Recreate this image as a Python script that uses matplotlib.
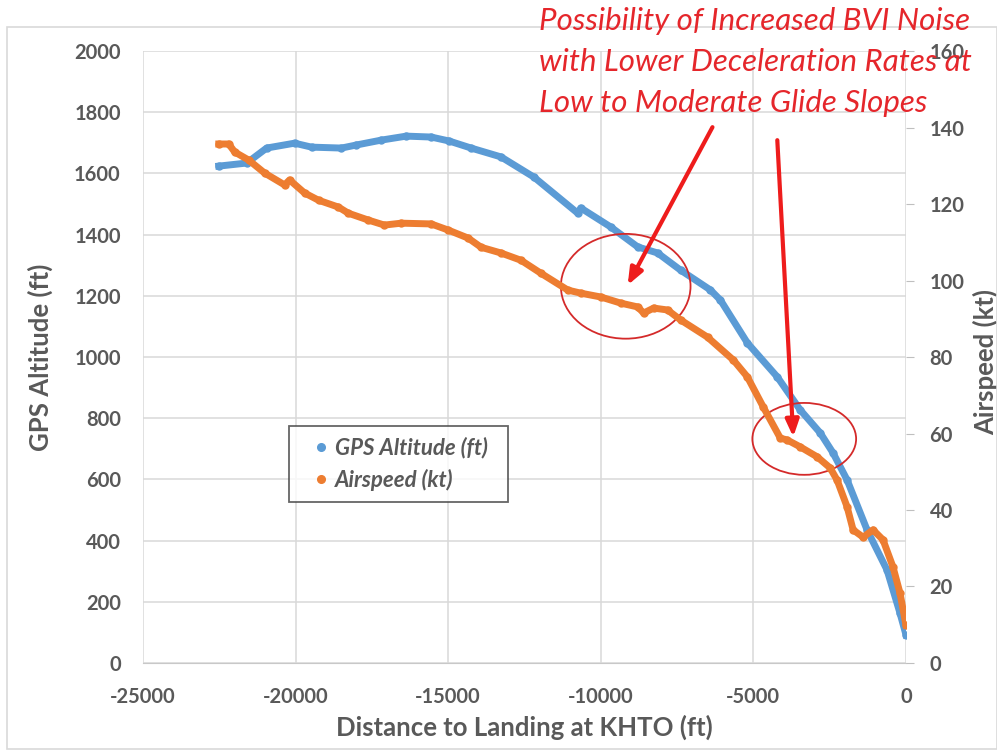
import matplotlib.pyplot as plt
from matplotlib.lines import Line2D
from matplotlib.patches import Ellipse, Rectangle

plt.rcParams['font.family'] = ['Lato', 'DejaVu Sans']
plt.rcParams['axes.unicode_minus'] = False

# GPS altitude track (ft) vs distance to touchdown (ft)
alt_dist = [-22516, -21601, -20948, -20033, -19477, -18497, -18007, -17190, -16373,
            -15556, -14967, -14248, -13268, -12190, -10752, -10654, -9673, -8791,
            -8137, -7386, -6405, -6078, -5196, -4216, -3464, -2810, -2386, -1928,
            -1275, -621, -196, 0]
alt_ft = [1624, 1634, 1683, 1699, 1686, 1683, 1693, 1709, 1722,
          1719, 1706, 1683, 1654, 1588, 1470, 1487, 1425, 1360,
          1340, 1284, 1219, 1186, 1046, 935, 827, 752, 686, 598,
          435, 304, 163, 92]

# airspeed (kt) vs distance to touchdown (ft)
spd_dist = [-22516, -22190, -21994, -21536, -21013, -20360, -20196, -19706, -19248,
            -18595, -18268, -17614, -17092, -16536, -15556, -15000, -14346, -13922,
            -13268, -12614, -11961, -11079, -10654, -10000, -9346, -8791, -8595,
            -8268, -7810, -7386, -6503, -5654, -5196, -4673, -4118, -3889, -3464,
            -2909, -2484, -2255, -1928, -1732, -1405, -1078, -752, -425, -196, 0]
spd_kt = [135.7, 135.7, 133.6, 131.5, 128.1, 125.0, 126.3, 122.9, 121.0,
          119.2, 117.6, 115.8, 114.5, 115.0, 114.8, 113.2, 111.1, 108.7,
          107.2, 105.3, 101.9, 97.5, 96.7, 95.7, 94.1, 93.1, 91.5,
          92.8, 92.3, 89.7, 85.2, 79.2, 74.8, 66.9, 58.8, 58.3, 56.5,
          53.9, 51.0, 47.8, 40.8, 34.8, 32.9, 34.8, 32.2, 25.1, 18.3, 9.9]

x_ticks = [-25000, -20000, -15000, -10000, -5000, 0]
alt_ticks = list(range(0, 2001, 200))
spd_ticks = list(range(0, 161, 20))

note_lines = ['Possibility of Increased BVI Noise',
              'with Lower Deceleration Rates at',
              'Low to Moderate Glide Slopes']

BLUE = '#5b9bd5'
ORANGE = '#ed7d31'
GRID = '#d9d9d9'
TXT = '#595959'
RED = '#e5262b'

fig = plt.figure(figsize=(9.97, 7.51), dpi=100)
fig.patches.append(Rectangle((7 / 997, 2 / 751), 990 / 997, 722 / 751,
                             transform=fig.transFigure, fill=False,
                             edgecolor=GRID, lw=1.2))

ax = fig.add_axes([0.1434, 0.1172, 0.7653, 0.8148])
ax2 = ax.twinx()

ax.plot(alt_dist, alt_ft, '-o', color=BLUE, lw=5, ms=5)
ax2.plot(spd_dist, spd_kt, '-o', color=ORANGE, lw=5, ms=5)

ax.set_xlim(-25000, 0)
ax.set_ylim(0, 2000)
ax2.set_ylim(0, 160)
ax.set_xticks(x_ticks)
ax.set_yticks(alt_ticks)
ax2.set_yticks(spd_ticks)
ax.grid(True, color=GRID, lw=1.1)
ax.set_axisbelow(True)

for a in (ax, ax2):
    for s in a.spines.values():
        s.set_visible(False)
ax.spines['bottom'].set_visible(True)
ax.spines['bottom'].set_color('#c8c8c8')

ax.tick_params(axis='both', length=0, labelcolor=TXT)
ax.tick_params(axis='y', pad=16)
ax.tick_params(axis='x', pad=17)
ax2.tick_params(axis='y', length=6, color='#bfbfbf', pad=11, labelcolor=TXT)
for lbl in ax.get_xticklabels() + ax.get_yticklabels() + ax2.get_yticklabels():
    lbl.set_fontsize(14.5)
    lbl.set_fontweight('bold')

lab_font = dict(fontsize=18.5, fontweight='bold', color=TXT)
ax.set_xlabel('Distance to Landing at KHTO (ft)', **lab_font)
ax.set_ylabel('GPS Altitude (ft)', **lab_font)
ax2.set_ylabel('Airspeed (kt)', **lab_font)
ax.xaxis.set_label_coords(0.5, -0.085)
ax.yaxis.set_label_coords(-0.118, 0.5)
ax2.yaxis.set_label_coords(1.088, 0.492)

# wide handle with the dot in its middle pushes the entries right inside the box
handles = [Line2D([], [], ls='', marker='o', ms=5.5, color=BLUE),
           Line2D([], [], ls='', marker='o', ms=5.5, color=ORANGE)]
leg = ax2.legend(handles, ['GPS Altitude (ft)  ', 'Airspeed (kt)'],
                 loc='upper left', bbox_to_anchor=(0.1914, 0.3873),
                 borderaxespad=0, fancybox=False, handlelength=1.9,
                 handletextpad=-0.35, borderpad=0.5, labelspacing=0.45,
                 prop=dict(size=16, style='italic', weight='bold'))
leg.get_frame().set_edgecolor('#404040')
leg.get_frame().set_linewidth(1.3)
for t in leg.get_texts():
    t.set_color(TXT)

# highlighted regions of the airspeed trace
ax2.add_patch(Ellipse((-9183, 98.5), 4248, 27.4, fill=False, edgecolor='#d42a2a', lw=1.3))
ax2.add_patch(Ellipse((-3333, 58.6), 3399, 18.8, fill=False, edgecolor='#d42a2a', lw=1.3))

arrow = dict(arrowstyle='-|>,head_width=0.4,head_length=1.0', color='#ee1c1c', lw=3,
             shrinkA=0, shrinkB=0)
ax2.annotate('', xy=(-9118, 98.8), xytext=(-6340, 140.1), arrowprops=arrow,
             annotation_clip=False)
ax2.annotate('', xy=(-3693, 59.1), xytext=(-4216, 136.7), arrowprops=arrow,
             annotation_clip=False)

for i, line in enumerate(note_lines):
    fig.text(539 / 997, 1 - (30 + 41 * i) / 751, line, ha='left', va='baseline',
             color=RED, fontsize=22.5, style='italic')

fig.savefig('out.png', dpi=100)
